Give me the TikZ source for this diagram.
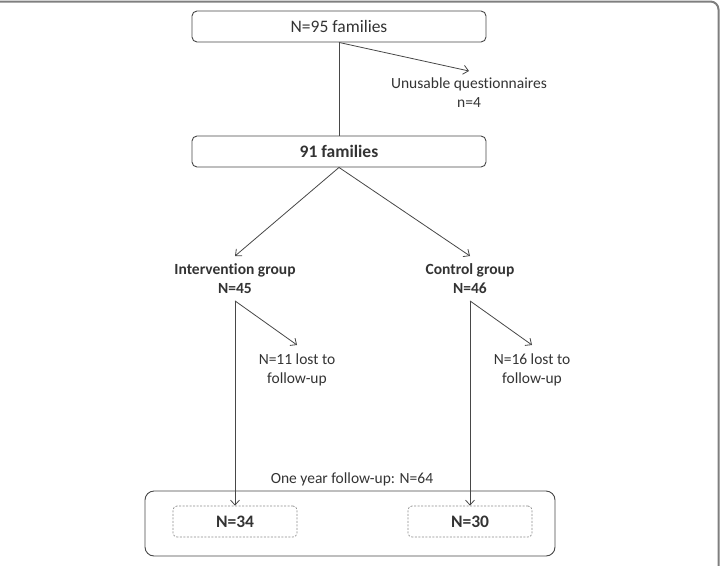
\documentclass[tikz,border=0pt]{standalone}
\usepackage{fontspec}
\setmainfont[RawFeature={-liga;-dlig}]{Carlito}
\usetikzlibrary{arrows.meta}
\definecolor{ln}{HTML}{474747}
\definecolor{txt}{HTML}{333333}
\definecolor{frm}{HTML}{7F7F7F}
\definecolor{dsh}{HTML}{8A8A8A}
\begin{document}
\begin{tikzpicture}[x=1pt,y=-1pt,
  every node/.style={text=txt},
  mainbox/.style={draw=ln, line width=0.9pt, rounded corners=5pt, minimum width=294pt, minimum height=31pt, inner sep=0pt, font=\fontsize{17.5}{21}\selectfont},
  lbl/.style={align=center, inner xsep=0pt, inner ysep=9pt, anchor=north, font=\fontsize{15.5}{18.5}\selectfont},
  grp/.style={lbl, inner ysep=7.5pt, font=\fontsize{15.5}{18.5}\selectfont\bfseries},
  bigbox/.style={draw=ln, line width=0.9pt, rounded corners=9pt, minimum width=410pt, minimum height=65pt, inner sep=0pt},
  dbox/.style={draw=dsh, line width=0.7pt, dash pattern=on 2pt off 1.5pt, rounded corners=4pt, minimum width=124pt, minimum height=31pt, inner sep=0pt, font=\fontsize{17.5}{21}\selectfont\bfseries},
  conn/.style={draw=ln, line width=0.8pt},
  arr/.style={conn, -{Straight Barb[length=5pt,width=9pt]}}
]
\useasboundingbox (0,0) rectangle (720,565);
\draw[draw=frm, line width=2pt, rounded corners=8pt] (0,1.5) -- (718.5,1.5) -- (718.5,567);

\node[mainbox] (b95) at (339,26.5) {N=95 families};
\node[mainbox, font=\fontsize{17.5}{21}\selectfont\bfseries] (b91) at (339,151.5) {91 families};
\node[lbl, inner ysep=7pt] (unus) at (469,71) {Unusable questionnaires\\n=4};
\node[grp] (ig) at (235,256) {Intervention group\\N=45};
\node[grp] (cg) at (470,256) {Control group\\N=46};
\node[lbl] (l11) at (297,345) {N=11 lost to\\follow-up};
\node[lbl] (l16) at (532,345) {N=16 lost to\\follow-up};
\node[bigbox] (fu) at (350,523.5) {};
\node[anchor=base, inner sep=0pt, font=\fontsize{15.5}{18.5}\selectfont] (fulbl) at (352,483) {One year follow-up: N=64};
\node[dbox] (n34) at (235,521.5) {N=34};
\node[dbox] (n30) at (470,521.5) {N=30};

\draw[conn] (b95.south) -- (b91.north);
\draw[arr] (b95.south) -- (unus.north);
\draw[arr] (b91.south) -- (ig.north);
\draw[arr] (b91.south) -- (cg.north);
\draw[arr] (ig.south) -- (l11.north);
\draw[arr] (ig.south) -- (n34.north);
\draw[arr] (cg.south) -- (l16.north);
\draw[arr] (cg.south) -- (n30.north);
\end{tikzpicture}
\end{document}
